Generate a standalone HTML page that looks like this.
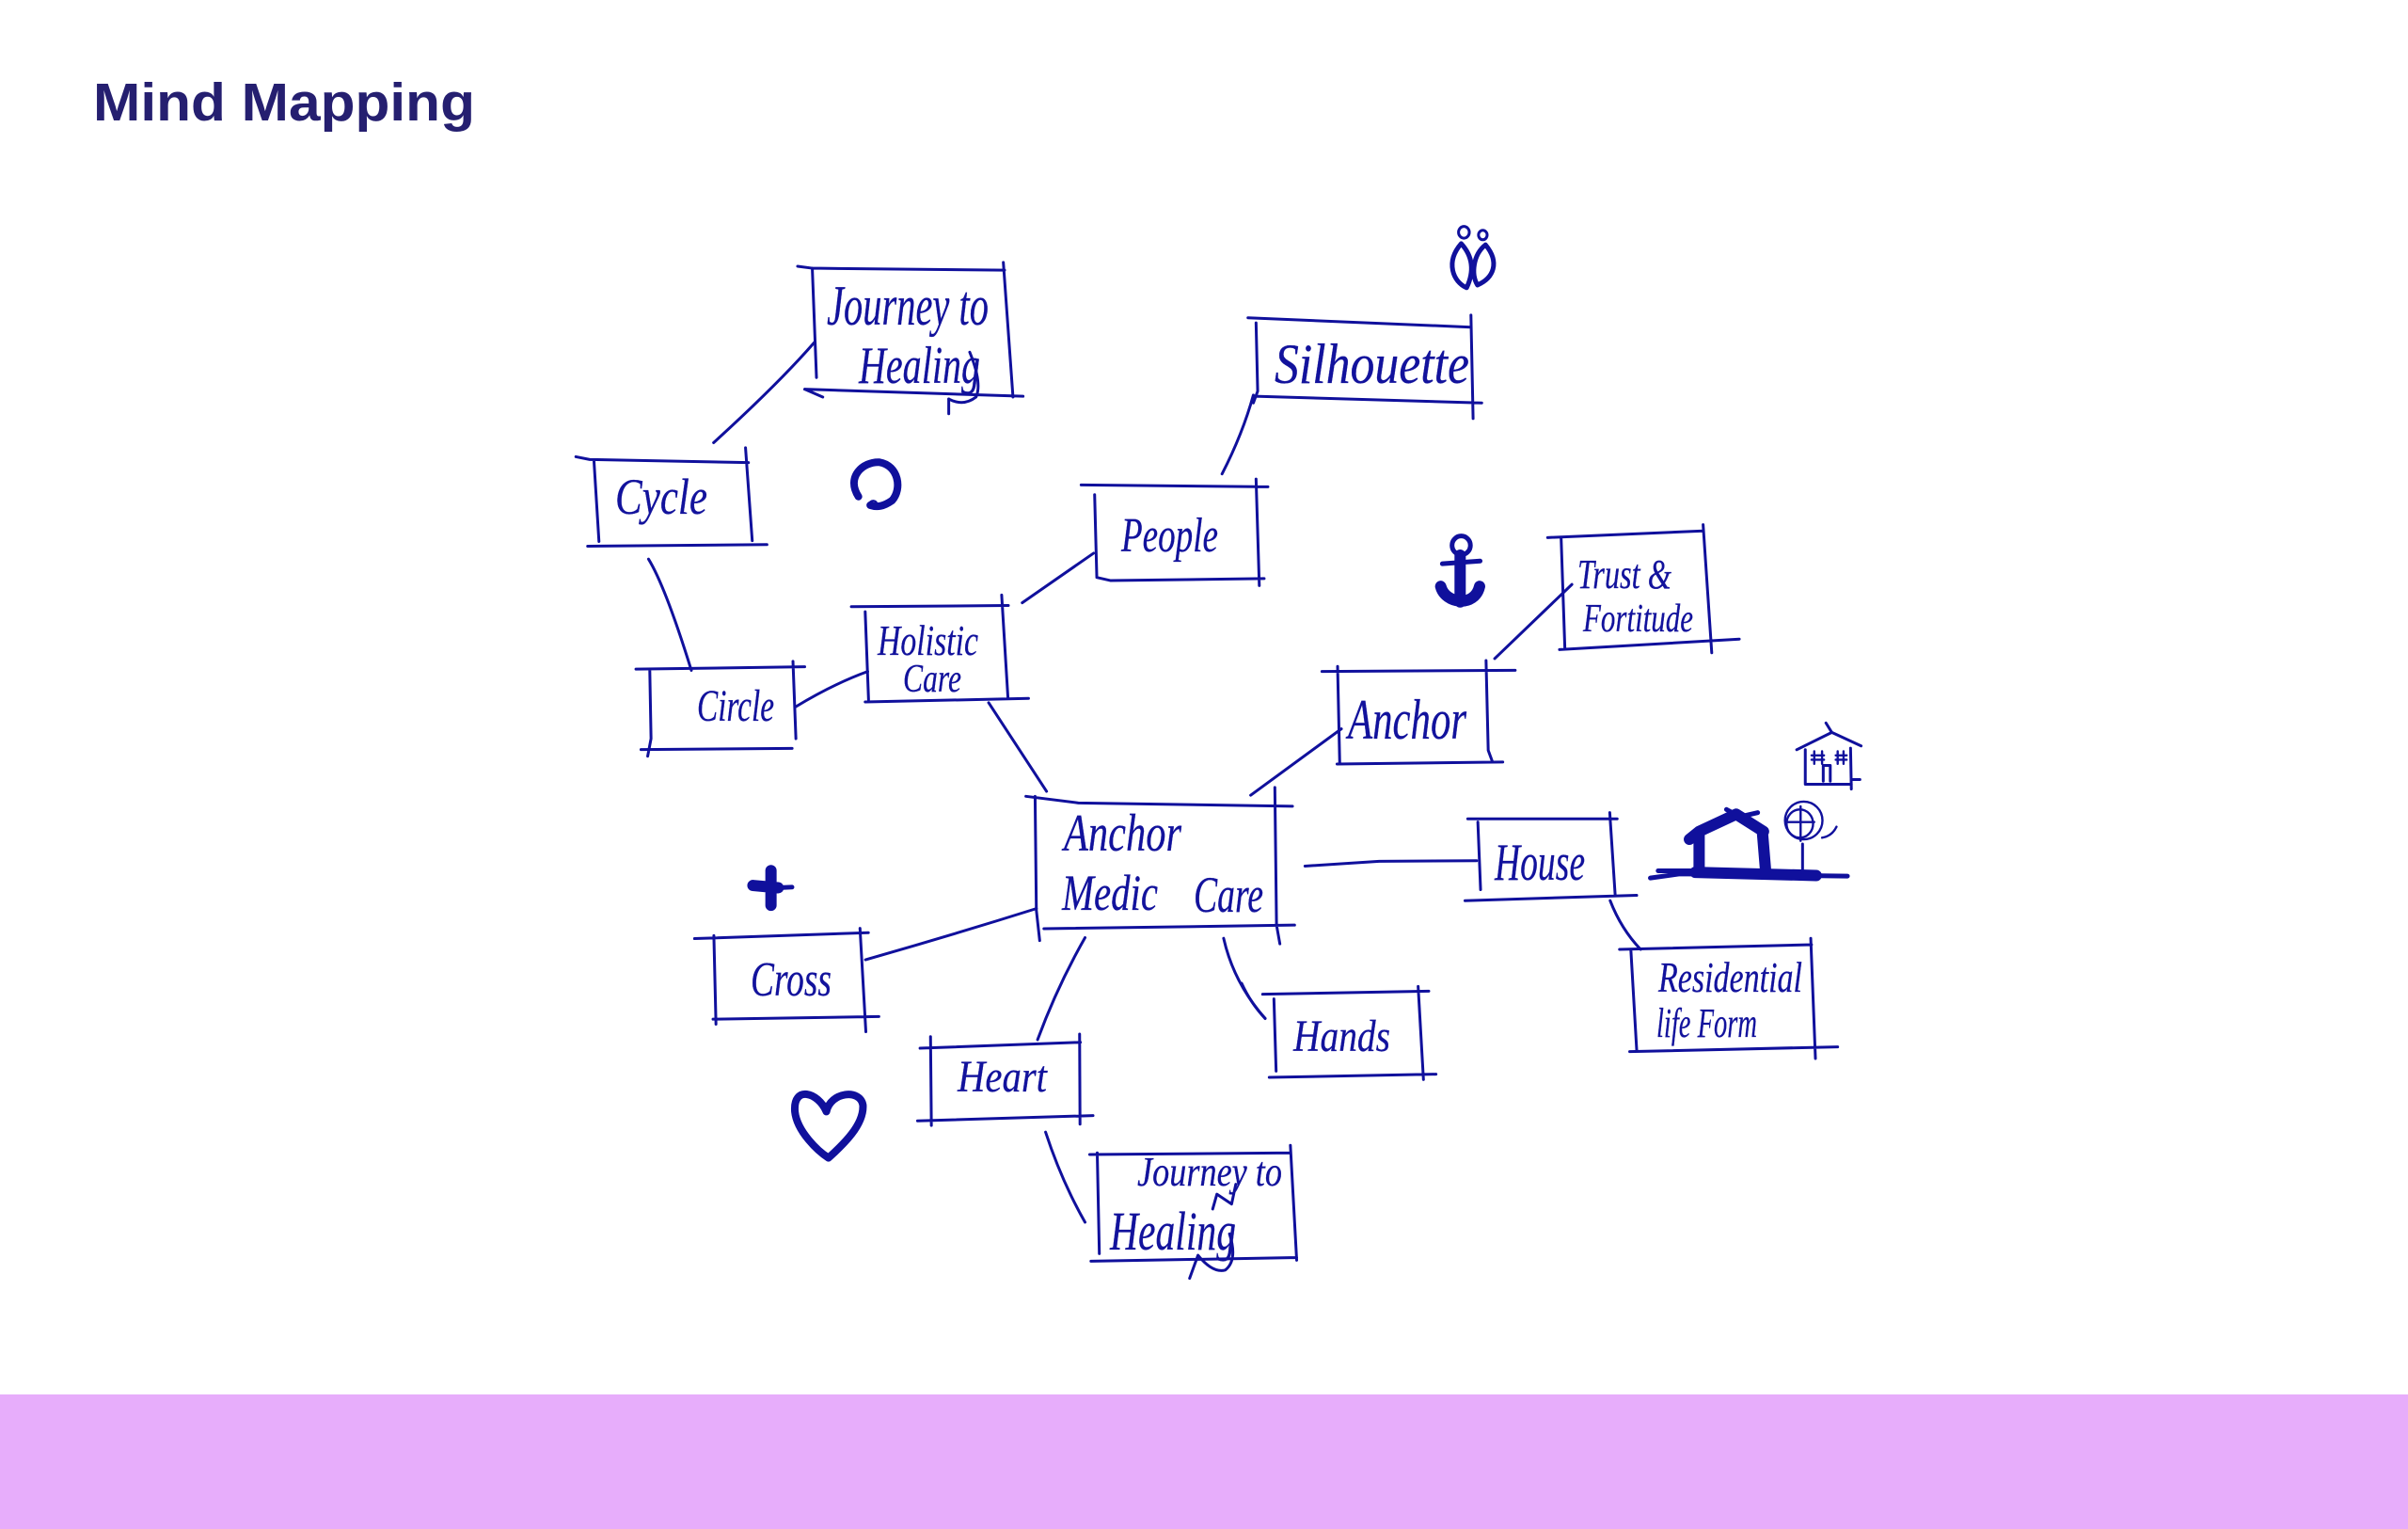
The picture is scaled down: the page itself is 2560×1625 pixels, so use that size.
<!DOCTYPE html>
<html lang="en">
<head>
<meta charset="utf-8">
<title>Mind Mapping</title>
<style>
html,body{margin:0;padding:0;background:#fff}
body{width:2560px;height:1625px;overflow:hidden}
svg{display:block}
.l path,.l ellipse,.l circle{fill:none;stroke:#10109c;stroke-width:3;stroke-linecap:round;stroke-linejoin:round;vector-effect:non-scaling-stroke}
.l .t5{stroke-width:5}
.l .t7{stroke-width:8}
.l .t9{stroke-width:12}
.l .t2{stroke-width:2.4}
.h text{font-family:"Liberation Serif",serif;font-style:italic;fill:#12129c;stroke:#12129c;stroke-width:.25}
</style>
</head>
<body>
<svg width="2560" height="1625" viewBox="0 0 2560 1625" xmlns="http://www.w3.org/2000/svg">
<rect width="2560" height="1625" fill="#fff"/>
<rect x="0" y="1482" width="2560" height="143" fill="#e7adfb"/>
<text x="99" y="128" font-family="'Liberation Sans',sans-serif" font-weight="700" font-size="57" fill="#251f70" textLength="406" lengthAdjust="spacingAndGlyphs">Mind Mapping</text>

<!-- Left cluster -->
<g class="l" transform="translate(560 200) scale(.4464 .4149)">
<path d="M645 200L680 205L1138 210M680 205L690 485M1135 190L1158 535M662 515L1182 533M662 515L705 535M1005 578L1005 540"/>
<path d="M1005 540Q1040 560 1070 535Q1085 500 1055 420"/>
<path d="M445 652Q600 500 685 395"/>
<path d="M117 688L150 695L528 703M160 697L172 905M521 665L537 903M145 917L572 913"/>
<path d="M290 950Q330 1020 392 1235"/>
<path d="M260 1232L662 1226M293 1235L296 1410L288 1455M634 1212L641 1410M272 1438L632 1435"/>
<path d="M641 1328Q730 1270 812 1238"/>
<path d="M773 1072L1147 1069M806 1085L814 1310M1131 1042L1146 1305M806 1316L1195 1307"/>
<path d="M1100 1318L1238 1545"/>
<path d="M1180 1062L1350 935"/>
<path class="t7" d="M790 790C760 740 800 700 840 702C885 710 895 770 870 800C850 815 835 818 818 812"/>
<circle class="t2" cx="825" cy="810" r="9"/>
</g>

<!-- Upper right cluster -->
<g class="l" transform="translate(1100 200) scale(.574 .4149)">
<path d="M395 332L808 356M410 345L413 520L405 550M808 325L812 590M408 533L828 550"/>
<path d="M347 732Q385 630 405 530"/>
<path d="M86 760L432 765M111 785L115 995M410 745L416 1018M115 997L140 1005L425 1000"/>
<path d="M950 895L1238 878M975 895L982 1180M1238 862L1254 1190M972 1182L1305 1155"/>
<path d="M852 1205L995 1015"/>
<path d="M532 1238L890 1235M561 1225L565 1475M836 1210L840 1440L848 1470M560 1475L867 1470"/>
<path d="M400 1555L568 1385"/>
<ellipse cx="795" cy="113" rx="10" ry="15"/><ellipse cx="830" cy="120" rx="8" ry="12"/>
<path class="t5" d="M790 142C760 190 775 240 800 255C812 220 815 180 790 142Z"/>
<path class="t5" d="M835 145C812 170 808 220 820 248C850 230 862 190 835 145Z"/>
<ellipse class="t5" cx="790" cy="915" rx="17" ry="24"/>
<path class="t9" d="M788 940L788 1060"/>
<path class="t5" d="M755 962L825 955"/>
<path class="t9" d="M752 1020C760 1065 815 1075 824 1020"/>
</g>

<!-- Lower cluster -->
<g class="l" transform="translate(700 820) scale(.4464 .3509)">
<path d="M875 75L1000 95L1510 105M897 75L900 420L908 512M1468 48L1472 465L1480 522M918 476L1515 465"/>
<path d="M493 570Q700 495 900 415"/>
<path d="M86 506L500 488M132 497L137 765M480 475L494 788M130 750L525 742"/>
<path d="M1016 503Q950 650 903 812"/>
<path d="M623 838L1005 820M648 803L650 1072M1003 795L1004 1068M617 1058L1035 1042"/>
<path d="M1346 505Q1370 640 1445 748"/>
<path d="M922 1092Q960 1240 1016 1365"/>
<path d="M1027 1160L1505 1155M1045 1155L1050 1460M1505 1132L1520 1480M1030 1483L1520 1472"/>
<path d="M1265 1535L1285 1465Q1320 1520 1350 1510Q1380 1480 1360 1400"/>
<path d="M1320 1325L1330 1280L1365 1310L1375 1250"/>
<path class="t9" d="M268 300L268 405M225 345L285 352"/>
<path class="t5" d="M285 352L318 350"/>
<path class="t7" d="M400 1030C380 970 320 950 325 1030C330 1090 380 1150 405 1170C440 1130 490 1070 487 1010C480 960 410 970 400 1030Z"/>
</g>

<!-- Right cluster -->
<g class="l" transform="translate(1350 750) scale(.4149 .3342)">
<path d="M90 510L280 495L530 493"/>
<path d="M507 360L890 360M533 370L540 585M871 340L885 605M500 620L940 603"/>
<path d="M872 620Q900 710 950 775"/>
<path d="M896 775L1388 760M925 775L940 1095M1386 740L1398 1122M922 1100L1455 1085"/>
<path class="t9" d="M1075 425L1100 400L1195 345L1265 400M1100 400L1100 520M1262 400L1270 520"/>
<path class="t9" d="M1090 530L1400 540"/>
<path class="t5" d="M975 548L1050 535L1480 542M995 525L1090 525M1170 330L1230 370M1180 360L1250 340"/>
<path d="M1365 440L1365 530"/>
<ellipse class="t2" cx="1368" cy="365" rx="48" ry="60"/>
<ellipse class="t2" cx="1358" cy="375" rx="34" ry="45"/>
<path class="t2" d="M1325 370H1395M1360 320V430M1415 420Q1440 415 1452 385"/>
<path d="M1350 140L1440 85L1515 128M1425 55L1440 85M1372 140L1372 250L1490 250M1488 135L1490 265M1490 235L1512 235"/>
<path class="t2" d="M1395 145V185M1415 145V185M1388 158H1420M1388 172H1420M1455 145V185M1470 145V185M1450 158H1478M1450 172H1478"/>
<path d="M1418 240V190H1436V240"/>
</g>

<!-- Hands box -->
<g class="l" transform="translate(1320 1030) scale(.3333)">
<path d="M67 80L597 70M103 95L110 325M563 55L580 352M88 345L620 335M0 45Q30 110 75 157"/>
</g>

<!-- Labels -->
<g class="h">
<text x="879" y="345" font-size="60" textLength="172" lengthAdjust="spacingAndGlyphs">Journey to</text>
<text x="913" y="407" font-size="56" textLength="129" lengthAdjust="spacingAndGlyphs">Healing</text>
<text x="654" y="546" font-size="54" textLength="98" lengthAdjust="spacingAndGlyphs">Cycle</text>
<text x="741" y="766" font-size="48" textLength="82" lengthAdjust="spacingAndGlyphs">Circle</text>
<text x="933" y="696" font-size="46" textLength="107" lengthAdjust="spacingAndGlyphs">Holistic</text>
<text x="960" y="735" font-size="42" textLength="62" lengthAdjust="spacingAndGlyphs">Care</text>
<text x="1192" y="586" font-size="52" textLength="103" lengthAdjust="spacingAndGlyphs">People</text>
<text x="1355" y="407" font-size="60" textLength="207" lengthAdjust="spacingAndGlyphs">Silhouette</text>
<text x="1677" y="625" font-size="44" textLength="100" lengthAdjust="spacingAndGlyphs">Trust &amp;</text>
<text x="1683" y="671" font-size="42" textLength="117" lengthAdjust="spacingAndGlyphs">Fortitude</text>
<text x="1433" y="785" font-size="60" textLength="126" lengthAdjust="spacingAndGlyphs">Anchor</text>
<text x="1131" y="904" font-size="56" textLength="125" lengthAdjust="spacingAndGlyphs">Anchor</text>
<text x="1129" y="967" font-size="54" textLength="102" lengthAdjust="spacingAndGlyphs">Medic</text>
<text x="1269" y="969" font-size="54" textLength="74" lengthAdjust="spacingAndGlyphs">Care</text>
<text x="798" y="1058" font-size="52" textLength="86" lengthAdjust="spacingAndGlyphs">Cross</text>
<text x="1018" y="1160" font-size="48" textLength="95" lengthAdjust="spacingAndGlyphs">Heart</text>
<text x="1375" y="1117" font-size="48" textLength="103" lengthAdjust="spacingAndGlyphs">Hands</text>
<text x="1589" y="935" font-size="56" textLength="96" lengthAdjust="spacingAndGlyphs">House</text>
<text x="1763" y="1054" font-size="46" textLength="153" lengthAdjust="spacingAndGlyphs">Residential</text>
<text x="1761" y="1102" font-size="44" textLength="107" lengthAdjust="spacingAndGlyphs">life Form</text>
<text x="1209" y="1260" font-size="44" textLength="154" lengthAdjust="spacingAndGlyphs">Journey to</text>
<text x="1180" y="1328" font-size="58" textLength="134" lengthAdjust="spacingAndGlyphs">Healing</text>
</g>
</svg>
</body>
</html>
